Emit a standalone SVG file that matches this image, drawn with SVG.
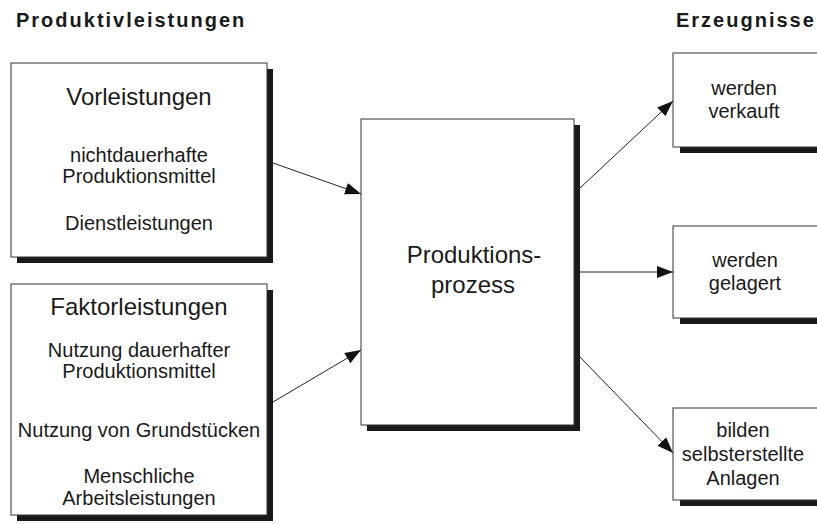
<svg xmlns="http://www.w3.org/2000/svg" width="817" height="524" viewBox="0 0 817 524">
<defs>
<style>
text{font-family:"Liberation Sans",Arial,sans-serif;fill:#1a1a1a;text-anchor:middle}
.head{font-size:20px;font-weight:bold;text-anchor:start;letter-spacing:2px}
.title{font-size:24px}
.body{font-size:20px}
.box{fill:#fff;stroke:#333;stroke-width:1}
.shadow{fill:#1a1a1a}
.conn{stroke:#222;stroke-width:1;fill:none;marker-end:url(#arr)}
</style>
<marker id="arr" markerUnits="userSpaceOnUse" markerWidth="17" markerHeight="13" refX="16" refY="6" orient="auto">
<path d="M0,0 L16,6 L0,12 z" fill="#111"/>
</marker>
</defs>
<rect width="817" height="524" fill="#fff"/>
<text class="head" x="16" y="27">Produktivleistungen</text>
<text class="head" x="676" y="27">Erzeugnisse</text>

<g id="vorleistungen">
<rect class="shadow" x="17" y="69" width="256" height="194"/>
<rect class="box" x="11" y="63" width="256" height="194"/>
<text class="title" x="139" y="105">Vorleistungen</text>
<text class="body" x="139" y="162">nichtdauerhafte</text>
<text class="body" x="139" y="183">Produktionsmittel</text>
<text class="body" x="139" y="230">Dienstleistungen</text>
</g>

<g id="faktorleistungen">
<rect class="shadow" x="17" y="290" width="256" height="231"/>
<rect class="box" x="11" y="284" width="256" height="231"/>
<text class="title" x="139" y="315">Faktorleistungen</text>
<text class="body" x="139" y="357">Nutzung dauerhafter</text>
<text class="body" x="139" y="378">Produktionsmittel</text>
<text class="body" x="139" y="437">Nutzung von Grundstücken</text>
<text class="body" x="139" y="483">Menschliche</text>
<text class="body" x="139" y="505">Arbeitsleistungen</text>
</g>

<g id="produktionsprozess">
<rect class="shadow" x="367" y="125" width="213" height="306"/>
<rect class="box" x="361" y="119" width="213" height="306"/>
<text class="title" x="474" y="263">Produktions-</text>
<text class="title" x="473" y="293">prozess</text>
</g>

<g id="verkauft">
<rect class="shadow" x="680" y="147" width="160" height="6"/>
<rect class="box" x="673" y="53" width="160" height="94"/>
<text class="body" x="744" y="95">werden</text>
<text class="body" x="744" y="118">verkauft</text>
</g>

<g id="gelagert">
<rect class="shadow" x="680" y="318" width="160" height="6"/>
<rect class="box" x="673" y="226" width="160" height="92"/>
<text class="body" x="745" y="267">werden</text>
<text class="body" x="745" y="290">gelagert</text>
</g>

<g id="anlagen">
<rect class="shadow" x="680" y="500" width="160" height="6"/>
<rect class="box" x="673" y="408" width="160" height="92"/>
<text class="body" x="743" y="437">bilden</text>
<text class="body" x="743" y="461">selbsterstellte</text>
<text class="body" x="743" y="485">Anlagen</text>
</g>

<g id="connectors">
<line class="conn" x1="273" y1="163" x2="361" y2="194"/>
<line class="conn" x1="273" y1="402" x2="361" y2="350"/>
<line class="conn" x1="580" y1="188" x2="673" y2="101"/>
<line class="conn" x1="580" y1="272" x2="673" y2="272"/>
<line class="conn" x1="580" y1="357" x2="673" y2="453"/>
</g>
</svg>
